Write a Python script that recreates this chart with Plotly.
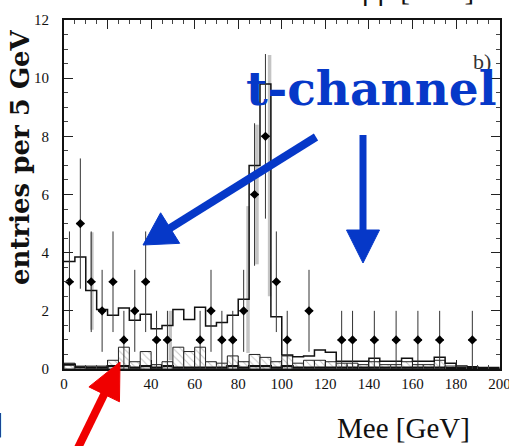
import math
import plotly.graph_objects as go

# ---------------- data ----------------
bin_lo = [0, 5, 10, 15, 20, 25, 30, 35, 40, 45, 50, 55, 60, 65, 70, 75, 80, 85, 90, 95,
          100, 105, 110, 115, 120, 125, 130, 135, 140, 145, 150, 155, 160, 165, 170, 175,
          180, 185, 190, 195]
bin_hi_last = 200

mc_total = [3.7, 3.85, 2.7, 2.05, 1.85, 2.1, 1.68, 1.88, 1.38, 1.5, 2.05, 1.7, 2.12, 1.48,
            1.6, 1.85, 2.4, 7.0, 9.8, 1.8, 0.48, 0.42, 0.45, 0.65, 0.58, 0.27, 0.27, 0.27,
            0.37, 0.27, 0.27, 0.37, 0.27, 0.27, 0.4, 0.2, 0.1, 0.08, 0.05, 0.05]

mc_small = [0.2, 0.1, 0.1, 0.1, 0.3, 0.75, 0.25, 0.6, 0.15, 0.25, 0.75, 0.6, 0.75, 0.25,
            0.2, 0.45, 0.25, 0.5, 0.4, 0.25, 0.45, 0.2, 0.3, 0.3, 0.25, 0.2, 0.2, 0.15,
            0.25, 0.15, 0.15, 0.25, 0.15, 0.15, 0.3, 0.1, 0.05, 0.05, 0.0, 0.0]

mc_base = [0.15, 0.06, 0.05, 0.05, 0.1, 0.1, 0.05, 0.1, 0.05, 0.1, 0.05, 0.05, 0.05, 0.05,
           0.05, 0.1, 0.05, 0.1, 0.1, 0.05, 0.1, 0.05, 0.05, 0.05, 0.05, 0.05, 0.05, 0.05,
           0.05, 0.05, 0.05, 0.05, 0.05, 0.05, 0.05, 0.03, 0.02, 0.02, 0.0, 0.0]

data_x = [2.5, 7.5, 12.5, 17.5, 22.5, 27.5, 32.5, 37.5, 42.5, 47.5, 62.5, 67.5, 72.5, 77.5,
          82.5, 87.5, 92.5, 97.5, 102.5, 112.5, 127.5, 132.5, 142.5, 152.5, 162.5, 172.5, 187.5]
data_y = [3, 5, 3, 2, 3, 1, 2, 3, 1, 1, 1, 2, 1, 1, 2, 6, 8, 3, 1, 2, 1, 1, 1, 1, 1, 1, 1]
data_err = [1.73, 2.24, 1.73, 1.41, 1.73, 1.0, 1.41, 1.73, 1.0, 1.0, 1.0, 1.41, 1.0, 1.0,
            1.41, 2.45, 2.83, 1.73, 1.0, 1.41, 1.0, 1.0, 1.0, 1.0, 1.0, 1.0, 1.0]

gray_x = [12.8, 48.8, 84.5, 88.6, 94.4]
gray_lo = [1.35, 0.3, 0.55, 3.6, 2.5]
gray_hi = [4.7, 2.0, 5.6, 8.4, 10.8]

x_ticks = [0, 20, 40, 60, 80, 100, 120, 140, 160, 180, 200]
y_ticks = [0, 2, 4, 6, 8, 10, 12]

# ---------------- layout geometry ----------------
W, H = 509, 446
L, R, T, B = 64, 9, 20, 77
PW = W - L - R
PH = H - T - B


def px(xp):
    return (xp - L) / PW


def py(yp):
    return (H - B - yp) / PH


BLUE = "#0638c8"
RED = "#f00000"

fig = go.Figure()

# gray error bands
fig.add_trace(go.Scatter(
    x=gray_x, y=gray_lo, mode="markers",
    marker=dict(size=1, opacity=0),
    error_y=dict(type="data", symmetric=False,
                 array=[h - l for h, l in zip(gray_hi, gray_lo)], arrayminus=[0] * len(gray_lo),
                 color="#c4c4c4", thickness=3.5, width=0),
    hoverinfo="skip"))

# small MC contribution (hatched boxes)
fig.add_trace(go.Bar(
    x=bin_lo, y=mc_small, offset=0, width=5,
    marker=dict(color="white", line=dict(color="#222", width=1),
                pattern=dict(shape="\\", fgcolor="#888", size=5, solidity=0.2)),
    hoverinfo="skip"))

# total MC step histogram
fig.add_trace(go.Scatter(
    x=bin_lo + [bin_hi_last], y=mc_total + [mc_total[-1]],
    mode="lines", line=dict(shape="hv", color="#111", width=1.5), hoverinfo="skip"))

# base contribution step
fig.add_trace(go.Scatter(
    x=bin_lo + [bin_hi_last], y=mc_base + [mc_base[-1]],
    mode="lines", line=dict(shape="hv", color="#111", width=2.2), hoverinfo="skip"))

# data points
fig.add_trace(go.Scatter(
    x=data_x, y=data_y, mode="markers",
    marker=dict(symbol="diamond", size=7, color="black"),
    error_y=dict(type="data", array=data_err, color="#333", thickness=1, width=0),
    error_x=dict(type="constant", value=1.9, color="#111", thickness=1.5, width=0),
    hoverinfo="skip"))

shapes = []


def arrow(tail, tip, head_len, head_half, width, color):
    dx, dy = tip[0] - tail[0], tip[1] - tail[1]
    n = math.hypot(dx, dy)
    ux, uy = dx / n, dy / n
    nx, ny = -uy, ux
    bx, by = tip[0] - ux * head_len, tip[1] - uy * head_len
    c1 = (bx + nx * head_half, by + ny * head_half)
    c2 = (bx - nx * head_half, by - ny * head_half)
    lx, ly = tip[0] - ux * (head_len - 2), tip[1] - uy * (head_len - 2)
    shapes.append(dict(type="line", xref="paper", yref="paper",
                       x0=px(tail[0]), y0=py(tail[1]), x1=px(lx), y1=py(ly),
                       line=dict(color=color, width=width), layer="above"))
    path = "M {} {} L {} {} L {} {} Z".format(px(tip[0]), py(tip[1]), px(c1[0]), py(c1[1]),
                                            px(c2[0]), py(c2[1]))
    shapes.append(dict(type="path", xref="paper", yref="paper", path=path,
                       fillcolor=color, line=dict(color=color, width=1), layer="above"))


arrow((316, 137), (143, 245), 32, 18, 8, BLUE)
arrow((363, 135), (363, 263), 33, 16.5, 7, BLUE)
arrow((76, 452), (120, 362), 36, 17, 8, RED)

annotations = [
    dict(text="b)", xref="paper", yref="paper", x=px(482), y=py(62), showarrow=False,
         xanchor="center", yanchor="middle",
         font=dict(family="Liberation Serif", size=22, color="#333")),
    dict(text="t-channel", xref="paper", yref="paper", x=px(371), y=py(88), showarrow=False,
         xanchor="center", yanchor="middle",
         font=dict(family="DejaVu Serif", size=47, color=BLUE, weight="bold")),
    dict(text="entries per 5 GeV", xref="paper", yref="paper", x=px(20), y=py(157),
         showarrow=False, textangle=-90, xanchor="center", yanchor="middle",
         font=dict(family="DejaVu Serif", size=26, color="#111", weight="bold")),
    dict(text="Mee [GeV]", xref="paper", yref="paper", x=px(403), y=py(428), showarrow=False,
         xanchor="center", yanchor="middle",
         font=dict(family="Liberation Serif", size=29, color="#111")),
    dict(text="Mμμ [GeV]", xref="paper", yref="paper", x=px(405), y=py(-10), showarrow=False,
         xanchor="center", yanchor="middle",
         font=dict(family="Liberation Serif", size=29, color="#111")),
    dict(text="]", xref="paper", yref="paper", x=px(-2), y=py(422), showarrow=False,
         xanchor="center", yanchor="middle",
         font=dict(family="Liberation Serif", size=30, color="#111")),
]

fig.update_layout(
    width=W, height=H, margin=dict(l=L, r=R, t=T, b=B, autoexpand=False),
    paper_bgcolor="white", plot_bgcolor="white", showlegend=False,
    barmode="overlay", shapes=shapes, annotations=annotations,
    xaxis=dict(range=[0, 200.2], tickvals=x_ticks, ticktext=[str(v) for v in x_ticks],
               ticks="inside", ticklen=9, tickwidth=1, tickcolor="#222",
               minor=dict(dtick=5, tick0=0, ticks="inside", ticklen=4, tickcolor="#444"),
               showline=True, linecolor="#111", linewidth=2, mirror="allticks",
               showgrid=False, zeroline=False, ticklabeloverflow="allow", automargin=False,
               tickfont=dict(family="Liberation Serif", size=15, color="#111")),
    yaxis=dict(range=[0, 12], tickvals=y_ticks, ticktext=[str(v) for v in y_ticks],
               ticks="inside", ticklen=9, tickwidth=1, tickcolor="#222",
               minor=dict(dtick=0.5, tick0=0, ticks="inside", ticklen=4, tickcolor="#444"),
               showline=True, linecolor="#111", linewidth=2, mirror="allticks",
               showgrid=False, zeroline=False, ticklabelstandoff=10, automargin=False,
               tickfont=dict(family="Liberation Serif", size=15, color="#111")),
)

fig.write_html("out.html")
